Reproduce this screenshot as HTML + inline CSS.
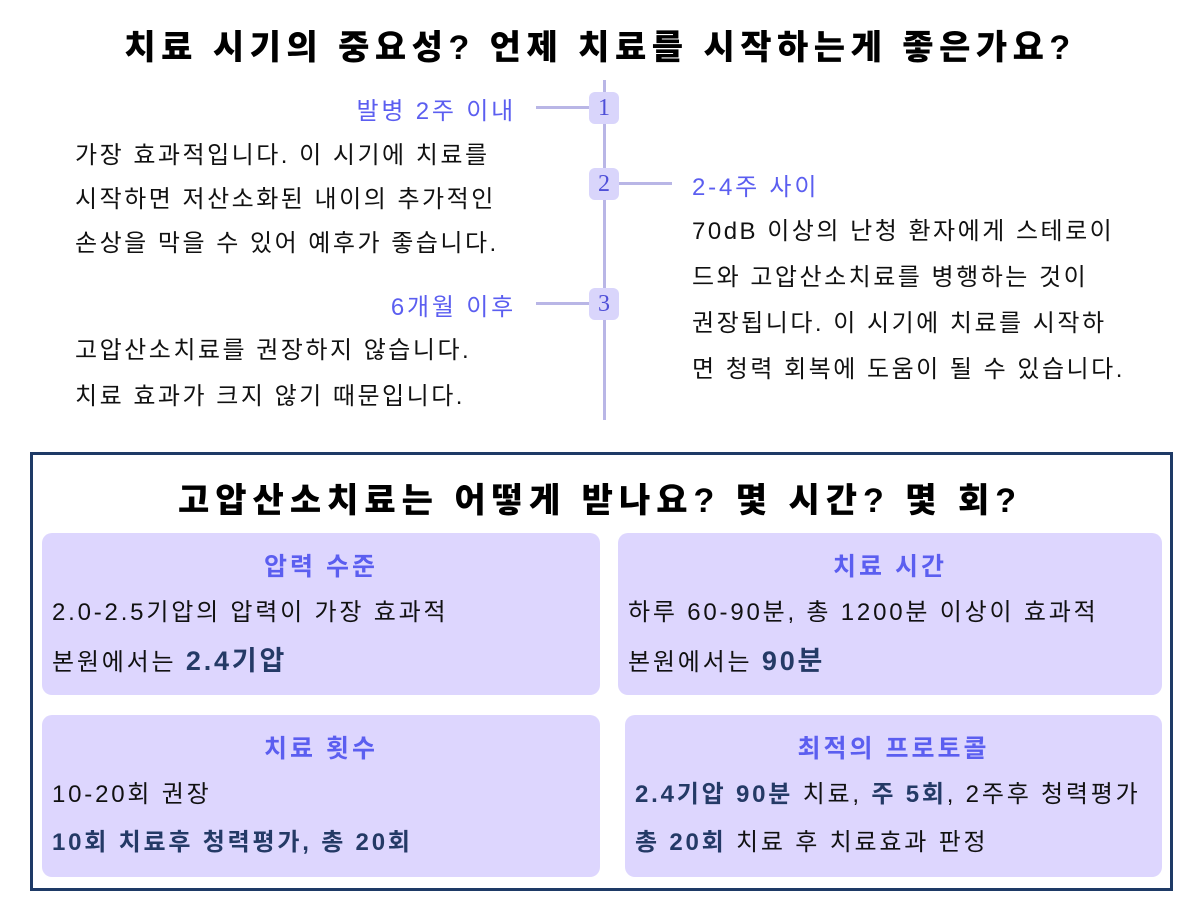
<!DOCTYPE html>
<html><head><meta charset="utf-8"><style>
body{margin:0;width:1200px;height:900px;background:#fff;position:relative;overflow:hidden;font-family:"Liberation Sans","Noto Sans CJK KR",sans-serif;color:#111}
.a{position:absolute;white-space:nowrap}
.t{font-weight:900;font-size:34px;color:#000;letter-spacing:5.5px}
.lab{color:#5b5ef0;font-size:24px;letter-spacing:2.8px}
.body{font-size:24px;line-height:44px;letter-spacing:2.5px}
.badge{position:absolute;width:30px;height:32px;left:589px;background:#d9d5fb;border-radius:6px;color:#4f4fd8;font-family:"Liberation Serif",serif;font-size:24px;text-align:center;line-height:32px}
.hl{position:absolute;height:3px;background:#b9b6e6}
.card{position:absolute;background:#ddd6fe;border-radius:10px}
.ct{position:absolute;left:0;right:0;text-align:center;top:14px;color:#5b5ef0;font-weight:bold;font-size:25px;letter-spacing:3px}
.cb{position:absolute;left:10px;top:56px;font-size:24px;line-height:48px;white-space:nowrap;letter-spacing:2.8px}
b.n{color:#243a66}
</style></head><body>
<div class="a t" style="left:0;width:1200px;text-align:center;top:20px">치료 시기의 중요성? 언제 치료를 시작하는게 좋은가요?</div>
<div style="position:absolute;left:603px;top:80px;width:3px;height:340px;background:#b9b6e6"></div>
<div class="hl" style="left:536px;top:106px;width:56px"></div>
<div class="hl" style="left:616px;top:182px;width:56px"></div>
<div class="hl" style="left:536px;top:302px;width:56px"></div>
<div class="badge" style="top:92px">1</div>
<div class="badge" style="top:168px">2</div>
<div class="badge" style="top:288px">3</div>
<div class="a lab" style="right:684px;top:91px">발병 2주 이내</div>
<div class="a lab" style="left:692px;top:167px">2-4주 사이</div>
<div class="a lab" style="right:684px;top:287px">6개월 이후</div>
<div class="a body" style="left:75px;top:134px">가장 효과적입니다. 이 시기에 치료를<br>시작하면 저산소화된 내이의 추가적인<br>손상을 막을 수 있어 예후가 좋습니다.</div>
<div class="a body" style="left:692px;top:209px;line-height:46px">70dB 이상의 난청 환자에게 스테로이<br>드와 고압산소치료를 병행하는 것이<br>권장됩니다. 이 시기에 치료를 시작하<br>면 청력 회복에 도움이 될 수 있습니다.</div>
<div class="a body" style="left:75px;top:328px;line-height:46px">고압산소치료를 권장하지 않습니다.<br>치료 효과가 크지 않기 때문입니다.</div>
<div style="position:absolute;left:30px;top:452px;width:1137px;height:433px;border:3px solid #1e3a66"></div>
<div class="a t" style="left:0;width:1200px;text-align:center;top:473px;letter-spacing:6px">고압산소치료는 어떻게 받나요? 몇 시간? 몇 회?</div>
<div class="card" style="left:42px;top:533px;width:558px;height:162px"><div class="ct">압력 수준</div><div class="cb">2.0-2.5기압의 압력이 가장 효과적<br>본원에서는 <b class="n" style="font-size:27px">2.4기압</b></div></div>
<div class="card" style="left:618px;top:533px;width:544px;height:162px"><div class="ct">치료 시간</div><div class="cb">하루 60-90분, 총 1200분 이상이 효과적<br>본원에서는 <b class="n" style="font-size:27px">90분</b></div></div>
<div class="card" style="left:42px;top:715px;width:558px;height:162px"><div class="ct">치료 횟수</div><div class="cb">10-20회 권장<br><b class="n">10회 치료후 청력평가, 총 20회</b></div></div>
<div class="card" style="left:625px;top:715px;width:537px;height:162px"><div class="ct">최적의 프로토콜</div><div class="cb"><b class="n">2.4기압 90분</b> 치료, <b class="n">주 5회</b>, 2주후 청력평가<br><b class="n">총 20회</b> 치료 후 치료효과 판정</div></div>
</body></html>
